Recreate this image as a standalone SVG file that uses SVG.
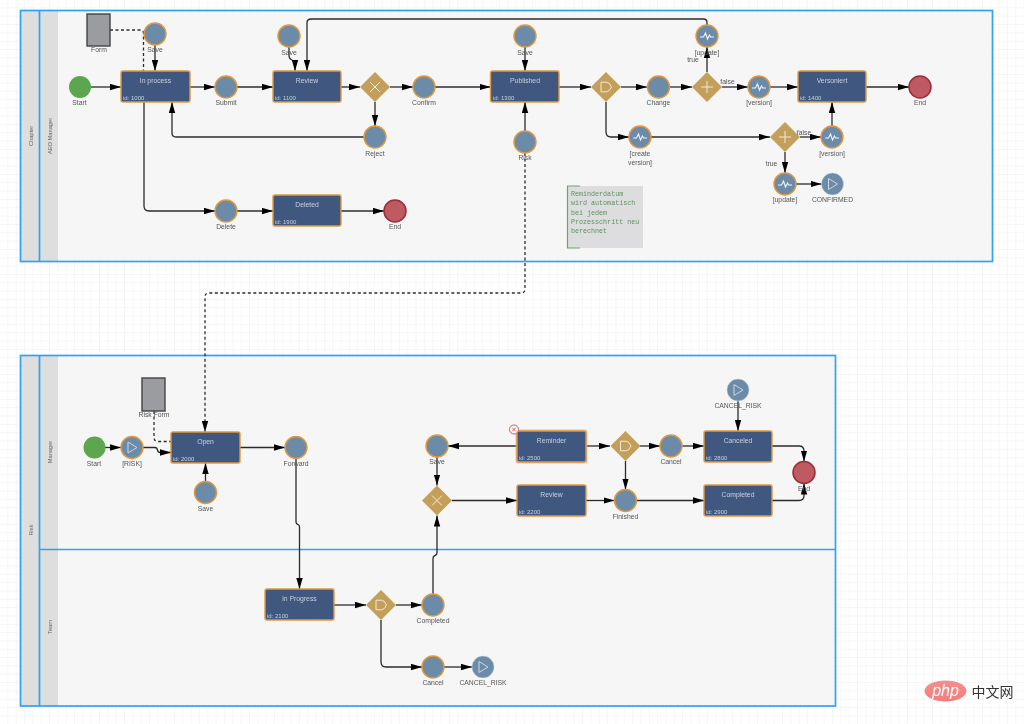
<svg xmlns="http://www.w3.org/2000/svg" width="1024" height="724" viewBox="0 0 1024 724">
<style>
text{font-family:"Liberation Sans",Arial,sans-serif}
.lb{font-size:6.8px;fill:#555;text-anchor:middle}
.sw{font-size:5.7px;fill:#666;text-anchor:middle}
.tt{font-size:6.8px;fill:#c5d0de;text-anchor:middle}
.id{font-size:6px;fill:#c5d0de}
.pool{fill:none;stroke:#2ea3f2;stroke-width:1.7}
.bg{fill:#f4f4f4;fill-opacity:.85}
.strip{fill:#dedede}
.task{fill:#41597f;stroke:#e0993c;stroke-width:1.4}
.ev{fill:#6c8ba9;stroke:#e0993c;stroke-width:1.4}
.ms{fill:#6c8ba9;stroke:#c9d6e2;stroke-width:.5}
.st{fill:#5ba650}
.en{fill:#bf5a62;stroke:#9b2d35;stroke-width:1.5}
.gw{fill:#c49f5a}
.ic{fill:none;stroke:#efeadf;stroke-width:1}
.art{fill:#9b9ca0;stroke:#444;stroke-width:1.4}
.c{fill:none;stroke:#2b2b2b;stroke-width:1.3;marker-end:url(#a)}
.d{fill:none;stroke:#2b2b2b;stroke-width:1.3;stroke-dasharray:3 2.500}
.da{marker-end:url(#a)}
.n{font-family:"Liberation Mono",monospace;font-size:6.7px;fill:#5d925d}
</style>
<defs>
<filter id="soft" x="0" y="0" width="100%" height="100%"><feGaussianBlur stdDeviation="0.3"/></filter>
<pattern id="g" width="8.33" height="8.33" patternUnits="userSpaceOnUse"><path d="M8.33 0V8.33H0" fill="none" stroke="#eaeaea" stroke-width=".8"/></pattern>
<marker id="a" markerUnits="userSpaceOnUse" markerWidth="11" markerHeight="7" refX="11" refY="3.500" orient="auto"><path d="M0 .3L11 3.500L0 6.700Z" fill="#000"/></marker>
<linearGradient id="ph" x1="0" y1="0" x2="0" y2="1"><stop offset="0" stop-color="#f58f8f"/><stop offset="1" stop-color="#f47c7c"/></linearGradient>
<symbol id="dm" overflow="visible"><path class="gw" d="M0-15L15 0L0 15L-15 0Z"/></symbol>
<symbol id="x" overflow="visible"><use href="#dm"/><path class="ic" d="M-5-5L5 5M5-5L-5 5"/></symbol>
<symbol id="p" overflow="visible"><use href="#dm"/><path class="ic" d="M-6 0H6M0-6V6"/></symbol>
<symbol id="o" overflow="visible"><use href="#dm"/><path class="ic" d="M-5-4.800H0.500Q3.500-4.800 5.500 0Q3.500 4.800 0.500 4.800H-5Z"/></symbol>
<symbol id="w" overflow="visible"><path fill="none" stroke="#eef3f7" stroke-width="1.100" d="M-7 1H-3.500L-1.500-3L.5 3L2.500-1L3.500 1H7"/></symbol>
<symbol id="t" overflow="visible"><path fill="none" stroke="#c9d6e2" stroke-width="1" d="M-4-5.500L5 0L-4 5.500Z"/></symbol>
</defs>
<g filter="url(#soft)">
<rect width="1024" height="724" fill="#fff"/>
<rect width="1024" height="724" fill="url(#g)"/>
<g id="pool-chapter">
<rect class="bg" x="20" y="10.500" width="973" height="251"/>
<rect class="strip" x="20" y="11" width="19" height="250"/><rect class="strip" x="40" y="11" width="18" height="250"/>
<rect class="pool" x="20.500" y="10.500" width="972" height="251"/><path class="pool" d="M39.500 10.500V261.500"/>
<text class="sw" transform="translate(33 136) rotate(-90)">Chapter</text>
<text class="sw" transform="translate(52 136) rotate(-90)">AEO Manager</text>
</g>
<g id="pool-risk">
<rect class="bg" x="20" y="355" width="816" height="351"/>
<rect class="strip" x="20" y="356" width="19" height="350"/><rect class="strip" x="40" y="356" width="18" height="350"/>
<rect class="pool" x="20.500" y="355.500" width="815" height="350.500"/><path class="pool" d="M39.500 355.500V706M39.500 549.500H835.500"/>
<text class="sw" transform="translate(33 530) rotate(-90)">Risk</text>
<text class="sw" transform="translate(52 452) rotate(-90)">Manager</text>
<text class="sw" transform="translate(52 627) rotate(-90)">Team</text>
</g>
<g id="connectors">
<path class="c" d="M91 87H121"/><path class="c" d="M155 45V71"/><path class="c" d="M190 87H215"/><path class="c" d="M237 87H273"/>
<path class="c" d="M341 87H360"/><path class="c" d="M390 87H413"/><path class="c" d="M435 87H490.500"/>
<path class="c" d="M289 47V55Q289 59 292 60Q295 61 295 65V71"/>
<path class="c" d="M707 25V22.500Q707 19 703.500 19H311Q307 19 307 23V71"/>
<path class="c" d="M375 102V126"/><path class="c" d="M364 137H176Q172 137 172 133V102"/>
<path class="c" d="M144 102V206Q144 211 149 211H215"/><path class="c" d="M237 211H273"/><path class="c" d="M341 211H384"/>
<path class="c" d="M525 47V71"/><path class="c" d="M525 131V102"/><path class="c" d="M559 87H591"/><path class="c" d="M621 87H647"/><path class="c" d="M669 87H692"/>
<path class="c" d="M707 72V47"/><path class="c" d="M722 87H748"/><path class="c" d="M770 87H798"/><path class="c" d="M866 87H909"/>
<path class="c" d="M606 102V132Q606 137 611 137H629"/><path class="c" d="M651 137H770"/><path class="c" d="M800 137H821"/><path class="c" d="M832 126V102"/>
<path class="c" d="M785 152V173"/><path class="c" d="M796 184H821.500"/>
<path class="d" d="M110 30H140Q143.500 30 143.500 33.500V71"/>
<path class="d da" d="M525 153V289Q525 293 521 293H209Q205 293 205 297V432"/>
<path class="c" d="M105 447.500H121"/><path class="c" d="M143 447.500H155Q157 447.500 157.500 450Q158 452.500 160 452.500H171"/>
<path class="d" d="M154 411V437.500Q154 441.500 158 441.500H171"/>
<path class="c" d="M240 447.500H285"/><path class="c" d="M205.500 481.500V463"/>
<path class="c" d="M296 458.500V522Q296 524 298 524.500Q299.500 525 299.500 527V589"/>
<path class="c" d="M334 605H366"/><path class="c" d="M396 605H422"/>
<path class="c" d="M433 594V558.500Q433 556 435 555.500Q437 555 437 552.500V515.500"/>
<path class="c" d="M381 620V662Q381 667 386 667H422"/><path class="c" d="M444 667H472"/>
<path class="c" d="M517 446H448"/><path class="c" d="M437 457V485.500"/><path class="c" d="M452 500.500H517"/>
<path class="c" d="M586 446H610"/><path class="c" d="M640 446H660"/><path class="c" d="M682 446H704"/><path class="c" d="M738 401V431"/>
<path class="c" d="M625.500 461V489.500"/><path class="c" d="M586 500.500H614.500"/><path class="c" d="M636.500 500.500H704"/>
<path class="c" d="M772 446H799Q804 446 804 451V461.500"/><path class="c" d="M772 500.500H799Q804 500.500 804 495.500V483.500"/>
</g>
<g id="form"><rect class="art" x="87" y="14" width="23" height="32"/><text class="lb" x="99" y="52">Form</text></g>
<g id="start1"><circle class="st" cx="80" cy="87" r="11"/><text class="lb" x="79.500" y="104.500">Start</text></g>
<g id="save1"><circle class="ev" cx="155" cy="34" r="11"/><text class="lb" x="155" y="52">Save</text></g>
<g id="inprocess"><rect class="task" x="121" y="71" width="69" height="31" rx="2"/><text class="tt" x="155.500" y="83">In process</text><text class="id" x="123" y="100">id: 1000</text></g>
<g id="submit"><circle class="ev" cx="226" cy="87" r="11"/><text class="lb" x="226" y="104.500">Submit</text></g>
<g id="save2"><circle class="ev" cx="289" cy="36" r="11"/><text class="lb" x="289" y="54.500">Save</text></g>
<g id="review1"><rect class="task" x="273" y="71" width="68" height="31" rx="2"/><text class="tt" x="307" y="83">Review</text><text class="id" x="275" y="100">id: 1100</text></g>
<g id="gw-x1"><use href="#x" x="375" y="87"/></g>
<g id="confirm"><circle class="ev" cx="424" cy="87" r="11"/><text class="lb" x="424" y="104.500">Confirm</text></g>
<g id="reject"><circle class="ev" cx="375" cy="137" r="11"/><text class="lb" x="375" y="155.500">Reject</text></g>
<g id="delete"><circle class="ev" cx="226" cy="211" r="11"/><text class="lb" x="226" y="228.500">Delete</text></g>
<g id="deleted"><rect class="task" x="273" y="195" width="68" height="31" rx="2"/><text class="tt" x="307" y="207">Deleted</text><text class="id" x="275" y="224">id: 1900</text></g>
<g id="end1"><circle class="en" cx="395" cy="211" r="11"/><text class="lb" x="395" y="228.500">End</text></g>
<g id="save3"><circle class="ev" cx="525" cy="36" r="11"/><text class="lb" x="525" y="54.500">Save</text></g>
<g id="published"><rect class="task" x="490.500" y="71" width="68.500" height="31" rx="2"/><text class="tt" x="525" y="83">Published</text><text class="id" x="493" y="100">id: 1300</text></g>
<g id="risk"><circle class="ev" cx="525" cy="142" r="11"/><text class="lb" x="525" y="160">Risk</text></g>
<g id="gw-o1"><use href="#o" x="606" y="87"/></g>
<g id="change"><circle class="ev" cx="658.500" cy="87" r="11"/><text class="lb" x="658.500" y="104.500">Change</text></g>
<g id="gw-p1"><use href="#p" x="707" y="87"/><text class="lb" x="693" y="62">true</text><text class="lb" x="727.500" y="84">false</text></g>
<g id="update1"><circle class="ev" cx="707" cy="36" r="11"/><use href="#w" x="707" y="36"/><text class="lb" x="707" y="54.500">[update]</text></g>
<g id="version1"><circle class="ev" cx="759" cy="87" r="11"/><use href="#w" x="759" y="87"/><text class="lb" x="759" y="104.500">[version]</text></g>
<g id="versoniert"><rect class="task" x="798" y="71" width="68" height="31" rx="2"/><text class="tt" x="832" y="83">Versoniert</text><text class="id" x="800" y="100">id: 1400</text></g>
<g id="end2"><circle class="en" cx="920" cy="87" r="11"/><text class="lb" x="920" y="104.500">End</text></g>
<g id="createversion"><circle class="ev" cx="640" cy="137" r="11"/><use href="#w" x="640" y="137"/><text class="lb" x="640" y="155.500">[create</text><text class="lb" x="640" y="165">version]</text></g>
<g id="gw-p2"><use href="#p" x="785" y="137"/><text class="lb" x="804" y="135">false</text><text class="lb" x="771.500" y="165.500">true</text></g>
<g id="version2"><circle class="ev" cx="832" cy="137" r="11"/><use href="#w" x="832" y="137"/><text class="lb" x="832" y="155.500">[version]</text></g>
<g id="update2"><circle class="ev" cx="785" cy="184" r="11"/><use href="#w" x="785" y="184"/><text class="lb" x="785" y="201.500">[update]</text></g>
<g id="confirmed"><circle class="ms" cx="832.500" cy="184" r="11"/><use href="#t" x="832.500" y="184"/><text class="lb" x="832.500" y="201.500">CONFIRMED</text></g>
<g id="note"><rect x="567" y="186" width="76" height="62" fill="#dddddf"/><path d="M580 186H567.500V248H580" fill="none" stroke="#6ea36e" stroke-width="1.200"/>
<text class="n" x="571" y="195.500">Reminderdatum</text><text class="n" x="571" y="205">wird automatisch</text><text class="n" x="571" y="214.500">bei jedem</text><text class="n" x="571" y="224">Prozesschritt neu</text><text class="n" x="571" y="233">berechnet</text></g>
<g id="riskform"><rect class="art" x="142" y="378" width="23" height="33"/><text class="lb" x="154" y="416.500">Risk Form</text></g>
<g id="start2"><circle class="st" cx="94.500" cy="447.500" r="11"/><text class="lb" x="94" y="465.500">Start</text></g>
<g id="riskev"><circle class="ev" cx="132" cy="447.500" r="11"/><use href="#t" x="132" y="447.500"/><text class="lb" x="132" y="465.500">[RISK]</text></g>
<g id="open"><rect class="task" x="171" y="432" width="69" height="31" rx="2"/><text class="tt" x="205.500" y="443.500">Open</text><text class="id" x="173" y="461">id: 2000</text></g>
<g id="forward"><circle class="ev" cx="296" cy="447.500" r="11"/><text class="lb" x="296" y="465.500">Forward</text></g>
<g id="save4"><circle class="ev" cx="205.500" cy="492.500" r="11"/><text class="lb" x="205.500" y="510.500">Save</text></g>
<g id="save5"><circle class="ev" cx="437" cy="446" r="11"/><text class="lb" x="437" y="464">Save</text></g>
<g id="reminder"><rect x="515.500" y="429.500" width="72" height="34" rx="3" fill="#f0a090" opacity=".7"/><rect class="task" x="517" y="431" width="69" height="31" rx="2"/><text class="tt" x="551.500" y="442.500">Reminder</text><text class="id" x="519" y="460">id: 2500</text>
<circle cx="514" cy="429.500" r="4.500" fill="#fff" stroke="#d9534f" stroke-width="1"/><path d="M512.200 427.700L515.800 431.300M515.800 427.700L512.200 431.300" stroke="#d9534f" stroke-width="1"/></g>
<g id="gw-o2"><use href="#o" x="625.500" y="446"/></g>
<g id="cancel1"><circle class="ev" cx="671" cy="446" r="11"/><text class="lb" x="671" y="464">Cancel</text></g>
<g id="canceled"><rect class="task" x="704" y="431" width="68" height="31" rx="2"/><text class="tt" x="738" y="442.500">Canceled</text><text class="id" x="706" y="460">id: 2800</text></g>
<g id="cancelrisk1"><circle class="ms" cx="738" cy="390" r="11"/><use href="#t" x="738" y="390"/><text class="lb" x="738" y="408">CANCEL_RISK</text></g>
<g id="end3"><circle class="en" cx="804" cy="472.500" r="11"/><text class="lb" x="804" y="490.500">End</text></g>
<g id="gw-x2"><use href="#x" x="437" y="500.500"/></g>
<g id="review2"><rect class="task" x="517" y="485" width="69" height="31" rx="2"/><text class="tt" x="551.500" y="496.500">Review</text><text class="id" x="519" y="514">id: 2200</text></g>
<g id="finished"><circle class="ev" cx="625.500" cy="500.500" r="11"/><text class="lb" x="625.500" y="518.500">Finished</text></g>
<g id="completed1"><rect class="task" x="704" y="485" width="68" height="31" rx="2"/><text class="tt" x="738" y="496.500">Completed</text><text class="id" x="706" y="514">id: 2900</text></g>
<g id="inprogress"><rect class="task" x="265" y="589" width="69" height="31" rx="2"/><text class="tt" x="299.500" y="600.500">in Progress</text><text class="id" x="267" y="618">id: 2100</text></g>
<g id="gw-o3"><use href="#o" x="381" y="605"/></g>
<g id="completed2"><circle class="ev" cx="433" cy="605" r="11"/><text class="lb" x="433" y="622.500">Completed</text></g>
<g id="cancel2"><circle class="ev" cx="433" cy="667" r="11"/><text class="lb" x="433" y="684.500">Cancel</text></g>
<g id="cancelrisk2"><circle class="ms" cx="483" cy="667" r="11"/><use href="#t" x="483" y="667"/><text class="lb" x="483" y="684.500">CANCEL_RISK</text></g>
<g id="watermark"><ellipse cx="945.500" cy="691" rx="21" ry="10.500" fill="url(#ph)"/><text x="945.500" y="695.500" font-size="16" font-style="italic" fill="#fff" text-anchor="middle">php</text>
<text x="971.500" y="696.500" font-size="14" fill="#333" style="font-family:'Noto Sans CJK SC',sans-serif">中文网</text></g>
</g>
</svg>
